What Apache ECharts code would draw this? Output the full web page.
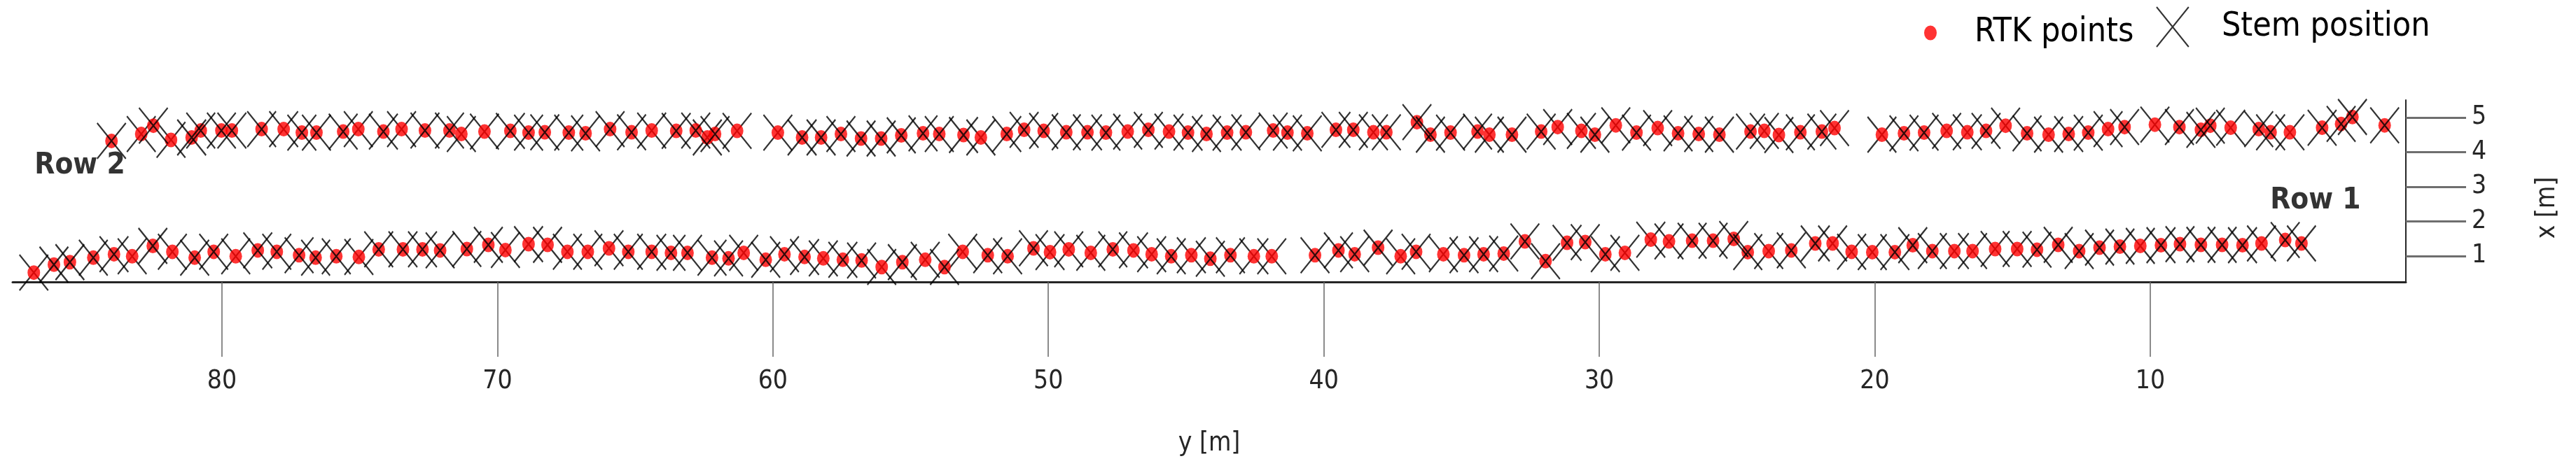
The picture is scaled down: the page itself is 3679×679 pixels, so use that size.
<!DOCTYPE html>
<html><head><meta charset="utf-8">
<script src="https://cdn.jsdelivr.net/npm/echarts@6/dist/echarts.min.js"></script>
<style>html,body{margin:0;padding:0;background:#fff}#c{width:3679px;height:679px}</style>
</head><body><div id="c"></div>
<script>
const FONT = "'Liberation Sans Narrow','Arial Narrow','DejaVu Sans Condensed','Liberation Sans',Arial,sans-serif";
const xTickValues = [10, 20, 30, 40, 50, 60, 70, 80];
const yTickValues = [1, 2, 3, 4, 5];
const legendNames = ['RTK points', 'Stem position'];
const rowLabels = [['Row 2', 85.16, 3.61], ['Row 1', 4.0, 2.6]];

// RTK points: [y (m, along row), x (m, across rows)]
const rtkRow1 = [[86.83,0.52],[86.10,0.75],[85.52,0.82],[84.67,0.95],[83.92,1.05],[83.26,0.99],[82.51,1.29],[81.80,1.12],[80.99,0.95],[80.30,1.12],[79.50,0.99],[78.70,1.16],[78.01,1.12],[77.20,1.02],[76.60,0.95],[75.85,0.99],[75.03,0.97],[74.31,1.19],[73.43,1.19],[72.72,1.19],[72.08,1.16],[71.11,1.20],[70.33,1.32],[69.71,1.17],[68.87,1.34],[68.18,1.32],[67.46,1.12],[66.72,1.12],[65.95,1.22],[65.25,1.12],[64.40,1.12],[63.70,1.09],[63.10,1.09],[62.21,0.95],[61.61,0.93],[61.06,1.09],[60.26,0.89],[59.58,1.05],[58.85,0.97],[58.17,0.93],[57.46,0.89],[56.78,0.87],[56.05,0.68],[55.30,0.82],[54.47,0.89],[53.77,0.68],[53.11,1.12],[52.20,1.02],[51.48,0.99],[50.54,1.22],[49.94,1.11],[49.26,1.19],[48.46,1.09],[47.66,1.19],[46.91,1.16],[46.25,1.05],[45.54,0.99],[44.81,1.02],[44.12,0.92],[43.39,1.02],[42.54,0.99],[41.89,0.99],[40.32,1.02],[39.47,1.16],[38.88,1.05],[38.03,1.24],[37.21,0.99],[36.65,1.12],[35.66,1.05],[34.91,1.02],[34.20,1.05],[33.47,1.07],[32.70,1.42],[31.95,0.85],[31.17,1.38],[30.51,1.40],[29.78,1.05],[29.07,1.09],[28.13,1.47],[27.47,1.42],[26.63,1.44],[25.87,1.44],[25.12,1.49],[24.61,1.11],[23.85,1.14],[23.03,1.16],[22.16,1.36],[21.53,1.36],[20.84,1.12],[20.09,1.11],[19.27,1.11],[18.62,1.31],[17.91,1.14],[17.11,1.14],[16.45,1.14],[15.63,1.20],[14.83,1.20],[14.11,1.18],[13.34,1.32],[12.58,1.14],[11.84,1.24],[11.10,1.27],[10.36,1.29],[9.61,1.31],[8.92,1.34],[8.16,1.32],[7.39,1.32],[6.65,1.31],[5.96,1.36],[5.10,1.46],[4.51,1.36]];
const rtkRow2 = [[84.01,4.32],[82.93,4.52],[82.49,4.76],[81.85,4.35],[81.10,4.42],[80.77,4.62],[80.02,4.62],[79.64,4.62],[78.56,4.66],[77.76,4.66],[77.10,4.56],[76.57,4.56],[75.60,4.59],[75.05,4.66],[74.14,4.59],[73.48,4.66],[72.63,4.62],[71.74,4.62],[71.31,4.52],[70.47,4.59],[69.53,4.61],[68.87,4.56],[68.28,4.57],[67.41,4.56],[66.80,4.54],[65.91,4.66],[65.13,4.57],[64.40,4.62],[63.51,4.61],[62.80,4.62],[62.38,4.42],[62.10,4.52],[61.30,4.61],[59.82,4.56],[58.94,4.42],[58.25,4.42],[57.53,4.52],[56.80,4.39],[56.07,4.39],[55.34,4.48],[54.55,4.54],[53.96,4.52],[53.08,4.49],[52.45,4.42],[51.51,4.52],[50.88,4.64],[50.17,4.61],[49.35,4.57],[48.58,4.57],[47.91,4.56],[47.12,4.59],[46.37,4.64],[45.62,4.59],[44.93,4.56],[44.26,4.52],[43.51,4.56],[42.83,4.57],[41.84,4.62],[41.32,4.56],[40.60,4.54],[39.56,4.64],[38.93,4.64],[38.20,4.57],[37.73,4.57],[36.62,4.86],[36.13,4.50],[35.40,4.56],[34.42,4.59],[33.99,4.50],[33.17,4.50],[32.11,4.59],[31.51,4.72],[30.65,4.61],[30.16,4.50],[29.40,4.77],[28.65,4.56],[27.88,4.69],[27.14,4.54],[26.39,4.52],[25.64,4.50],[24.51,4.59],[24.01,4.61],[23.48,4.49],[22.70,4.57],[21.92,4.59],[21.46,4.69],[19.74,4.50],[18.94,4.54],[18.21,4.56],[17.39,4.61],[16.64,4.57],[15.96,4.61],[15.25,4.76],[14.47,4.54],[13.69,4.50],[12.96,4.52],[12.25,4.56],[11.53,4.66],[10.93,4.72],[9.83,4.79],[8.94,4.72],[8.16,4.64],[7.82,4.76],[7.08,4.70],[6.06,4.66],[5.63,4.57],[4.93,4.57],[3.76,4.70],[3.07,4.81],[2.66,5.01],[1.49,4.77]];

// Stem positions: [y, x, drawnOverDot (1) or under it (0)]
const stemRow1 = [[86.83,0.52,0],[86.10,0.75,1],[85.52,0.82,1],[84.67,0.95,1],[83.92,1.05,1],[83.26,0.99,0],[82.51,1.29,1],[81.80,1.12,0],[80.99,0.95,1],[80.30,1.12,1],[79.50,0.99,0],[78.70,1.16,1],[78.01,1.12,1],[77.20,1.02,1],[76.60,0.95,1],[75.85,0.99,1],[75.03,0.97,0],[74.31,1.19,1],[73.43,1.19,1],[72.72,1.19,1],[72.08,1.16,1],[71.11,1.20,1],[70.33,1.32,1],[69.71,1.17,0],[68.87,1.34,0],[68.18,1.32,0],[67.46,1.12,0],[66.72,1.12,0],[65.95,1.22,0],[65.25,1.12,1],[64.40,1.12,1],[63.70,1.09,1],[63.10,1.09,1],[62.21,0.95,1],[61.61,0.93,1],[61.06,1.09,0],[60.26,0.89,1],[59.58,1.05,1],[58.85,0.97,1],[58.17,0.93,0],[57.46,0.89,1],[56.78,0.87,1],[56.05,0.68,0],[55.30,0.82,1],[54.47,0.89,0],[53.77,0.68,1],[53.11,1.12,0],[52.20,1.02,1],[51.48,0.99,1],[50.54,1.22,1],[49.94,1.11,0],[49.26,1.19,0],[48.46,1.09,0],[47.66,1.19,1],[46.91,1.16,0],[46.25,1.05,0],[45.54,0.99,1],[44.81,1.02,0],[44.12,0.92,1],[43.39,1.02,1],[42.54,0.99,0],[41.89,0.99,0],[40.32,1.02,1],[39.47,1.16,1],[38.88,1.05,1],[38.03,1.24,1],[37.21,0.99,0],[36.65,1.12,1],[35.66,1.05,0],[34.91,1.02,1],[34.20,1.05,1],[33.47,1.07,1],[32.70,1.42,1],[31.95,0.85,1],[31.17,1.38,1],[30.51,1.40,1],[29.78,1.05,1],[29.07,1.09,0],[28.13,1.47,0],[27.47,1.42,0],[26.63,1.44,1],[25.87,1.44,1],[25.12,1.49,1],[24.61,1.11,1],[23.85,1.14,0],[23.03,1.16,1],[22.16,1.36,1],[21.53,1.36,0],[20.84,1.12,0],[20.09,1.11,0],[19.27,1.11,1],[18.62,1.31,1],[17.91,1.14,1],[17.11,1.14,0],[16.45,1.14,0],[15.63,1.20,0],[14.83,1.20,0],[14.11,1.18,1],[13.34,1.32,1],[12.58,1.14,1],[11.84,1.24,1],[11.10,1.27,1],[10.36,1.29,0],[9.61,1.31,1],[8.92,1.34,1],[8.16,1.32,1],[7.39,1.32,1],[6.65,1.31,1],[5.96,1.36,0],[5.10,1.46,1],[4.51,1.36,1]];
const stemRow2 = [[84.01,4.32,1],[82.93,4.52,0],[82.49,4.76,1],[81.85,4.35,0],[81.10,4.42,1],[80.77,4.62,1],[80.02,4.62,1],[79.64,4.62,1],[78.56,4.66,1],[77.76,4.66,0],[77.10,4.56,1],[76.57,4.56,1],[75.60,4.59,1],[75.05,4.66,0],[74.14,4.59,1],[73.48,4.66,0],[72.63,4.62,1],[71.74,4.62,1],[71.31,4.52,0],[70.47,4.59,0],[69.53,4.61,1],[68.87,4.56,1],[68.28,4.57,1],[67.41,4.56,1],[66.80,4.54,1],[65.91,4.66,1],[65.13,4.57,1],[64.40,4.62,0],[63.51,4.61,1],[62.80,4.62,1],[62.38,4.42,0],[62.10,4.52,1],[61.30,4.61,0],[59.82,4.56,0],[58.94,4.42,1],[58.25,4.42,1],[57.53,4.52,1],[56.80,4.39,1],[56.07,4.39,1],[55.34,4.48,1],[54.55,4.54,1],[53.96,4.52,1],[53.08,4.49,1],[52.45,4.42,0],[51.51,4.52,1],[50.88,4.64,1],[50.17,4.61,1],[49.35,4.57,1],[48.58,4.57,1],[47.91,4.56,1],[47.12,4.59,0],[46.37,4.64,1],[45.62,4.59,0],[44.93,4.56,1],[44.26,4.52,1],[43.51,4.56,1],[42.83,4.57,1],[41.84,4.62,1],[41.32,4.56,1],[40.60,4.54,1],[39.56,4.64,1],[38.93,4.64,1],[38.20,4.57,0],[37.73,4.57,1],[36.62,4.86,1],[36.13,4.50,1],[35.40,4.56,1],[34.42,4.59,1],[33.99,4.50,0],[33.17,4.50,1],[32.11,4.59,1],[31.51,4.72,0],[30.65,4.61,0],[30.16,4.50,1],[29.40,4.77,0],[28.65,4.56,1],[27.88,4.69,0],[27.14,4.54,1],[26.39,4.52,1],[25.64,4.50,1],[24.51,4.59,1],[24.01,4.61,0],[23.48,4.49,0],[22.70,4.57,1],[21.92,4.59,1],[21.46,4.69,0],[19.74,4.50,0],[18.94,4.54,1],[18.21,4.56,1],[17.39,4.61,0],[16.64,4.57,0],[15.96,4.61,1],[15.25,4.76,0],[14.47,4.54,1],[13.69,4.50,0],[12.96,4.52,1],[12.25,4.56,1],[11.53,4.66,0],[10.93,4.72,1],[9.83,4.79,0],[8.94,4.72,1],[8.16,4.64,1],[7.82,4.76,1],[7.08,4.70,0],[6.06,4.66,1],[5.63,4.57,1],[4.93,4.57,0],[3.76,4.70,1],[3.07,4.81,1],[2.66,5.01,1],[1.49,4.77,1]];

const DOT = 'path://M0,10.5A9,10.5,0,1,1,18,10.5A9,10.5,0,1,1,0,10.5Z';
const CROSS = 'path://M0,0L41,51M41,0L0,51';
const stemStyle = { color: 'rgba(0,0,0,0)', borderColor: '#000', borderWidth: 2.3 };
const allStems = stemRow1.concat(stemRow2);
const stemsUnder = allStems.filter(d => !d[2]).map(d => [d[0], d[1]]);
const stemsOver = allStems.filter(d => d[2]).map(d => [d[0], d[1]]);

const chart = echarts.init(document.getElementById('c'), null, { renderer: 'canvas' });
chart.setOption({
  animation: false,
  backgroundColor: '#fff',
  grid: { left: 18, right: 243, top: 143, bottom: 276, containLabel: false },
  legend: [
    { data: [{ name: legendNames[0], icon: DOT }], left: 2743, top: 18, itemWidth: 18, itemHeight: 21,
      padding: 5, selectedMode: false,
      textStyle: { fontSize: 48, fontFamily: FONT, color: '#000', padding: [0, 0, 0, 49] } },
    { data: [{ name: legendNames[1], icon: CROSS, itemStyle: { color: 'rgba(0,0,0,0)', borderColor: '#000', borderWidth: 2 } }],
      left: 3074, top: 4, itemWidth: 46, itemHeight: 57, padding: 5, selectedMode: false,
      textStyle: { fontSize: 48, fontFamily: FONT, color: '#000', padding: [0, 0, 0, 42] } }
  ],
  xAxis: {
    type: 'value', min: 0.72, max: 87.6, inverse: true, position: 'bottom',
    axisLine: { show: true, onZero: false, lineStyle: { color: '#262626', width: 3 } },
    axisTick: { show: true, length: 107, customValues: xTickValues, lineStyle: { color: '#666', width: 1.5 } },
    axisLabel: { customValues: xTickValues, margin: 124, fontSize: 37, fontFamily: FONT, color: '#262626' },
    splitLine: { show: false },
    name: 'y [m]', nameLocation: 'middle', nameGap: 213,
    nameTextStyle: { fontSize: 37, fontFamily: FONT, color: '#262626' }
  },
  yAxis: {
    type: 'value', min: 0.25, max: 5.5, position: 'right',
    axisLine: { show: true, onZero: false, lineStyle: { color: '#262626', width: 2 } },
    axisTick: { show: true, length: 86, customValues: yTickValues, lineStyle: { color: '#6e6e6e', width: 3 } },
    axisLabel: { customValues: yTickValues, margin: 94, fontSize: 37, fontFamily: FONT, color: '#262626' },
    splitLine: { show: false },
    name: 'x [m]', nameLocation: 'middle', nameRotate: 90, nameGap: 184,
    nameTextStyle: { fontSize: 37, fontFamily: FONT, color: '#262626', padding: [0, 48, 0, 0] }
  },
  series: [
    { name: legendNames[1], type: 'scatter', z: 2, silent: true, symbol: CROSS, symbolSize: [41, 51],
      itemStyle: stemStyle, data: stemsUnder },
    { name: legendNames[0], type: 'scatter', z: 3, silent: true, symbol: DOT, symbolSize: [18, 21],
      itemStyle: { color: '#ff0000' }, data: rtkRow1.concat(rtkRow2) },
    { name: legendNames[1], type: 'scatter', z: 4, silent: true, symbol: CROSS, symbolSize: [41, 51],
      itemStyle: stemStyle, data: stemsOver },
    { name: 'labels', type: 'scatter', z: 5, silent: true, symbolSize: 0,
      data: rowLabels.map(r => ({ name: r[0], value: [r[1], r[2]] })),
      label: { show: true, position: 'inside', formatter: '{b}', fontSize: 42, fontWeight: 'bold',
        fontFamily: "'DejaVu Sans Condensed','Liberation Sans Narrow','Liberation Sans',sans-serif", color: '#000' } }
  ]
});
</script></body></html>
